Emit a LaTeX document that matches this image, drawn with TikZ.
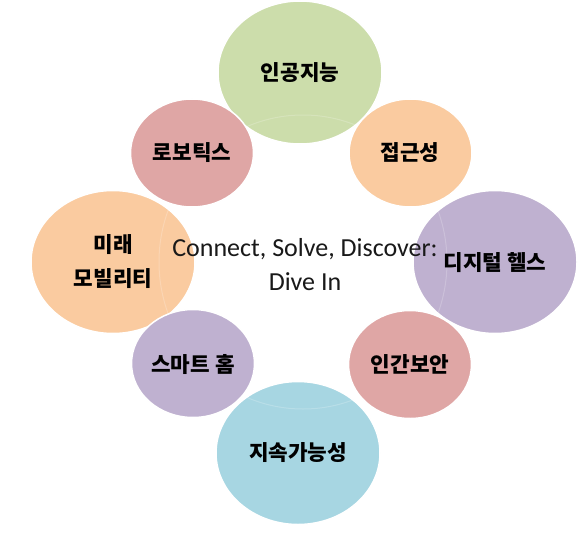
\documentclass[tikz,border=0pt]{standalone}
\usepackage{fontspec}
\setmainfont{Carlito}
\newfontfamily\kr{Noto Sans CJK KR}
\usetikzlibrary{shapes.geometric}
\definecolor{cgreen}{RGB}{204,221,171}
\definecolor{crose}{RGB}{223,166,165}
\definecolor{cpeach}{RGB}{250,203,160}
\definecolor{cpurple}{RGB}{191,177,208}
\definecolor{cteal}{RGB}{167,214,226}
\tikzset{
  bigbub/.style={ellipse, minimum width=164pt, minimum height=143pt, draw=white, line width=1.5pt, inner sep=0pt},
  smallbub/.style={ellipse, minimum width=123pt, minimum height=108pt, draw=white, line width=1.5pt, inner sep=0pt},
  lbl/.style={font=\kr\bfseries\fontsize{21.3}{34}\selectfont, align=center, text=black},
  ctr/.style={font=\fontsize{26}{34}\selectfont, align=center, text=black!90}
}
\begin{document}
\begin{tikzpicture}[x=1pt,y=-1pt]
\useasboundingbox (0,0) rectangle (580,532);
\fill[white] (0,0) rectangle (580,532);
% large bubbles
\node[bigbub, fill=cgreen] (ai) at (300,72.5) {};
\node[bigbub, fill=cpeach] (mob) at (113,262) {};
\node[bigbub, fill=cpurple] (dh) at (495,262) {};
\node[bigbub, fill=cteal] (sus) at (298,453) {};
% faint ring
\draw[white, opacity=0.2, line width=1pt] (303,262) ellipse [x radius=144, y radius=147];
% small bubbles
\node[smallbub, fill=crose] (rob) at (192,153) {};
\node[smallbub, fill=cpeach] (acc) at (410.5,153) {};
\node[smallbub, fill=cpurple] (sh) at (193,363.5) {};
\node[smallbub, fill=crose] (hs) at (410,364.5) {};
% labels
\node[lbl] (tai) at (300,73) {인공지능};
\node[lbl] (trob) at (192,153) {로보틱스};
\node[lbl] (tacc) at (410,153) {접근성};
\node[lbl] (tmob) at (113,262) {미래\\모빌리티};
\node[lbl] (tdh) at (495,263) {디지털 헬스};
\node[lbl] (tsh) at (193,364) {스마트 홈};
\node[lbl] (ths) at (410,364) {인간보안};
\node[lbl] (tsus) at (298,453) {지속가능성};
\node[ctr] (center) at (305,265) {Connect, Solve, Discover:\\Dive In};
\end{tikzpicture}
\end{document}
